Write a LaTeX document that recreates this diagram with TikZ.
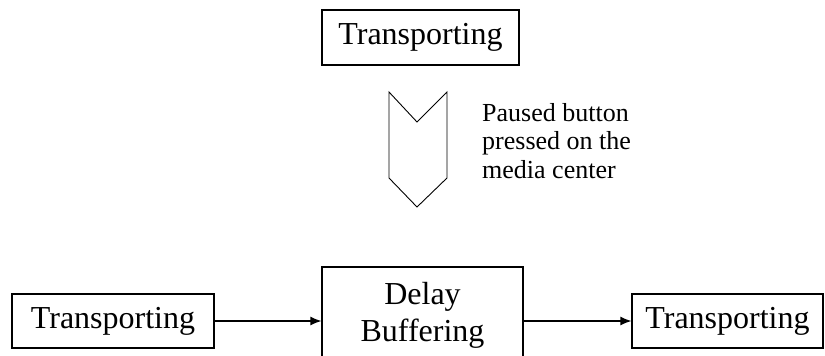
\documentclass[tikz,border=0pt]{standalone}
\usepackage{fontspec}
\setmainfont{Liberation Serif}
\usetikzlibrary{arrows.meta}
\usetikzlibrary{positioning}
\tikzset{statebox/.style = {draw, line width=1.2pt, inner sep=0pt,
                            font=\fontsize{32}{37}\selectfont, align=center},
         flow/.style = {line width=1.2pt, -{Latex[length=11pt,width=9pt]}}}

\begin{document}
\begin{tikzpicture}[x=1pt, y=-1pt]
      \useasboundingbox (0, 0) rectangle (825, 356);

      \node [statebox, minimum width=197pt, minimum height=55pt] (top) at (420.5, 37.5) {Transporting};

      \draw [line width=0.9pt, line join=miter]
        (389, 92) -- (417, 122) -- (447, 92) -- (447, 178)
        -- (417, 207) -- (389, 178) -- cycle;
      \node [anchor=north west, inner sep=0pt, align=left,
             font=\fontsize{26}{28.5}\selectfont] (note) at (482, 103)
        {Paused button\\pressed on the\\media center};

      \node [statebox, minimum width=202pt, minimum height=54pt] (left) at (113, 321) {Transporting};
      \node [statebox, minimum width=201pt, minimum height=96pt] (mid) at (422.5, 315) {Delay\\Buffering};
      \node [statebox, minimum width=191pt, minimum height=54pt] (right) at (727.5, 321) {Transporting};

      \draw [flow] (left.east) -- (left.east -| mid.west);
      \draw [flow] (right.west -| mid.east) -- (right.west);
    \end{tikzpicture}
\end{document}
